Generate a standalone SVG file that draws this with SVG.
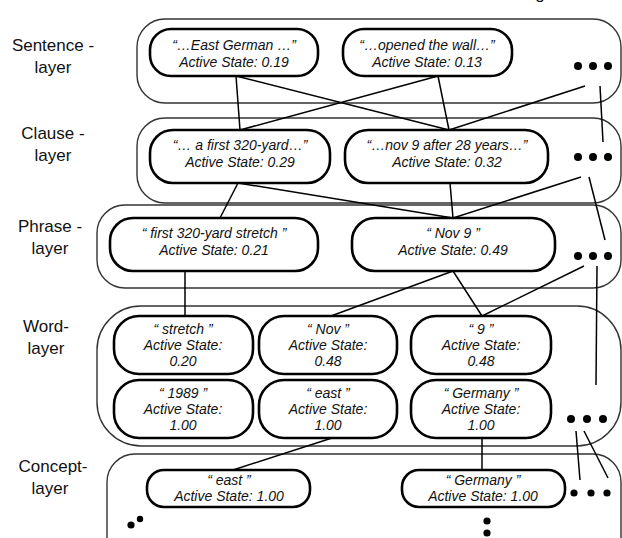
<svg xmlns="http://www.w3.org/2000/svg" width="622" height="538" viewBox="0 0 622 538">
<style>
.bg{fill:#fff}
.outer{fill:none;stroke:#333;stroke-width:1.4}
.node{fill:#fff;stroke:#000;stroke-width:2.6}
.lbl{font-family:"Liberation Sans",Arial,sans-serif;font-size:17px;fill:#111;text-anchor:middle}
.nt{font-family:"Liberation Sans",Arial,sans-serif;font-size:14px;font-style:italic;fill:#111;text-anchor:middle}
.con{stroke:#000;stroke-width:1.5;fill:none}
.dot{fill:#000}
</style>
<rect class="bg" x="0" y="0" width="622" height="538"/>
<text class="lbl" x="540" y="-1">g</text>

<g id="layers">
<g id="sentence-layer"><rect class="outer" x="137" y="19" width="484" height="84" rx="28"/>
<text class="lbl" x="53" y="51">Sentence -</text><text class="lbl" x="53" y="73">layer</text></g>
<g id="clause-layer"><rect class="outer" x="137" y="118" width="484" height="85" rx="28"/>
<text class="lbl" x="53" y="139">Clause -</text><text class="lbl" x="53" y="161">layer</text></g>
<g id="phrase-layer"><rect class="outer" x="97" y="205" width="524" height="83" rx="28"/>
<text class="lbl" x="50" y="232">Phrase -</text><text class="lbl" x="50" y="254">layer</text></g>
<g id="word-layer"><rect class="outer" x="97" y="306" width="524" height="140" rx="44"/>
<text class="lbl" x="46" y="332">Word-</text><text class="lbl" x="46" y="354">layer</text></g>
<g id="concept-layer"><rect class="outer" x="107" y="454" width="514" height="120" rx="28"/>
<text class="lbl" x="53" y="472">Concept-</text><text class="lbl" x="50" y="494">layer</text></g>
</g>

<g id="connectors">
<line class="con" x1="236" y1="76" x2="240" y2="130"/>
<line class="con" x1="236" y1="76" x2="449" y2="130"/>
<line class="con" x1="438" y1="76" x2="240" y2="130"/>
<line class="con" x1="438" y1="76" x2="449" y2="130"/>
<line class="con" x1="585" y1="86" x2="449" y2="130"/>
<line class="con" x1="600" y1="86" x2="603" y2="142"/>
<line class="con" x1="238" y1="183" x2="220" y2="218"/>
<line class="con" x1="238" y1="183" x2="453" y2="218"/>
<line class="con" x1="450" y1="183" x2="453" y2="218"/>
<line class="con" x1="581" y1="177" x2="453" y2="218"/>
<line class="con" x1="589" y1="177" x2="605" y2="240"/>
<line class="con" x1="185" y1="271" x2="185" y2="316"/>
<line class="con" x1="453" y1="271" x2="331" y2="316"/>
<line class="con" x1="453" y1="271" x2="482" y2="316"/>
<line class="con" x1="584" y1="266" x2="482" y2="316"/>
<line class="con" x1="597" y1="266" x2="596" y2="385"/>
<line class="con" x1="332" y1="438" x2="233" y2="470"/>
<line class="con" x1="482" y1="438" x2="482" y2="470"/>
<line class="con" x1="576" y1="431" x2="580" y2="480"/>
<line class="con" x1="584" y1="431" x2="608" y2="478"/>
</g>

<g id="s1"><rect class="node" x="150" y="29" width="168" height="47" rx="21"/>
<text class="nt" x="234" y="50">“…East German …”</text><text class="nt" x="234" y="67">Active State: 0.19</text></g>
<g id="s2"><rect class="node" x="343" y="29" width="169" height="47" rx="21"/>
<text class="nt" x="427" y="50">“…opened the wall…”</text><text class="nt" x="427" y="67">Active State: 0.13</text></g>
<g id="s-more"><circle class="dot" cx="578" cy="66" r="4"/><circle class="dot" cx="593" cy="66" r="4"/><circle class="dot" cx="608" cy="66" r="4"/></g>

<g id="c1"><rect class="node" x="150" y="130" width="180" height="53" rx="23"/>
<text class="nt" x="240" y="150">“… a first 320-yard…”</text><text class="nt" x="240" y="167">Active State: 0.29</text></g>
<g id="c2"><rect class="node" x="345" y="130" width="203" height="53" rx="23"/>
<text class="nt" x="447" y="150">“…nov 9 after 28 years…”</text><text class="nt" x="447" y="167">Active State: 0.32</text></g>
<g id="c-more"><circle class="dot" cx="578" cy="157" r="4"/><circle class="dot" cx="593" cy="157" r="4"/><circle class="dot" cx="608" cy="157" r="4"/></g>

<g id="p1"><rect class="node" x="110" y="218" width="208" height="53" rx="23"/>
<text class="nt" x="214" y="238">“ first 320-yard stretch ”</text><text class="nt" x="214" y="255">Active State: 0.21</text></g>
<g id="p2"><rect class="node" x="352" y="218" width="203" height="53" rx="23"/>
<text class="nt" x="453" y="238">“ Nov 9 ”</text><text class="nt" x="453" y="255">Active State: 0.49</text></g>
<g id="p-more"><circle class="dot" cx="578" cy="256" r="4"/><circle class="dot" cx="593" cy="256" r="4"/><circle class="dot" cx="608" cy="256" r="4"/></g>

<g id="w-stretch"><rect class="node" x="114" y="316" width="139" height="58" rx="25"/>
<text class="nt" x="183" y="334">“ stretch ”</text><text class="nt" x="183" y="350">Active State:</text><text class="nt" x="183" y="366">0.20</text></g>
<g id="w-nov"><rect class="node" x="259" y="316" width="138" height="58" rx="25"/>
<text class="nt" x="328" y="334">“ Nov ”</text><text class="nt" x="328" y="350">Active State:</text><text class="nt" x="328" y="366">0.48</text></g>
<g id="w-9"><rect class="node" x="411" y="316" width="140" height="58" rx="25"/>
<text class="nt" x="481" y="334">“ 9 ”</text><text class="nt" x="481" y="350">Active State:</text><text class="nt" x="481" y="366">0.48</text></g>
<g id="w-1989"><rect class="node" x="114" y="380" width="139" height="58" rx="25"/>
<text class="nt" x="183" y="398">“ 1989 ”</text><text class="nt" x="183" y="414">Active State:</text><text class="nt" x="183" y="430">1.00</text></g>
<g id="w-east"><rect class="node" x="259" y="380" width="138" height="58" rx="25"/>
<text class="nt" x="328" y="398">“ east ”</text><text class="nt" x="328" y="414">Active State:</text><text class="nt" x="328" y="430">1.00</text></g>
<g id="w-germany"><rect class="node" x="411" y="380" width="140" height="58" rx="25"/>
<text class="nt" x="481" y="398">“ Germany ”</text><text class="nt" x="481" y="414">Active State:</text><text class="nt" x="481" y="430">1.00</text></g>
<g id="w-more"><circle class="dot" cx="571" cy="419" r="4"/><circle class="dot" cx="587" cy="419" r="4"/><circle class="dot" cx="603" cy="419" r="4"/></g>

<g id="k-east"><rect class="node" x="147" y="470" width="163" height="37" rx="17"/>
<text class="nt" x="229" y="485">“ east ”</text><text class="nt" x="229" y="501">Active State: 1.00</text></g>
<g id="k-germany"><rect class="node" x="402" y="470" width="163" height="37" rx="17"/>
<text class="nt" x="483" y="485">“ Germany ”</text><text class="nt" x="483" y="501">Active State: 1.00</text></g>
<g id="k-more"><circle class="dot" cx="574" cy="493" r="3.6"/><circle class="dot" cx="591" cy="493" r="3.6"/><circle class="dot" cx="607" cy="493" r="3.6"/></g>
<g id="k-more-left"><circle class="dot" cx="131" cy="525" r="3.6"/><circle class="dot" cx="140" cy="519" r="3.2"/></g>
<g id="k-more-mid"><circle class="dot" cx="487" cy="521" r="3.6"/><circle class="dot" cx="487" cy="533" r="3.6"/></g>
</svg>
